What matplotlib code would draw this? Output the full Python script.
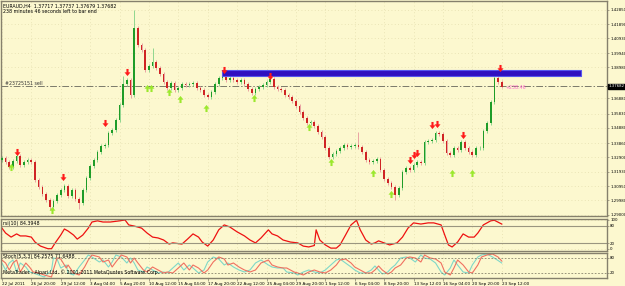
import numpy as np
import matplotlib.pyplot as plt
from matplotlib.path import Path
from matplotlib.patches import Rectangle
import matplotlib.transforms as mtransforms

plt.rcParams['font.family'] = ['DejaVu Sans']

# ----------------------
# Data (EURAUD H4, one candle per two H4 bars)
# ----------------------
candle_bar = list(range(0, 274, 2))
first_open = 1.3270
close_px = [
    1.3285, 1.3258, 1.3224, 1.3265, 1.3299, 1.3238, 1.3258, 1.3272, 1.3258, 1.3136,
    1.3089, 1.3042, 1.3001, 1.2954, 1.2995, 1.3035, 1.3069, 1.3096, 1.3028, 1.3069,
    1.3008, 1.2981, 1.3069, 1.3150, 1.3231, 1.3272, 1.3326, 1.3366, 1.3373, 1.3454,
    1.3474, 1.3542, 1.3643, 1.3785, 1.3812, 1.3711, 1.4163, 1.4049, 1.4015, 1.3880,
    1.3907, 1.3934, 1.3893, 1.3853, 1.3799, 1.3758, 1.3792, 1.3745, 1.3758, 1.3785,
    1.3778, 1.3785, 1.3792, 1.3758, 1.3745, 1.3711, 1.3697, 1.3731, 1.3785, 1.3826,
    1.3866, 1.3812, 1.3826, 1.3812, 1.3799, 1.3812, 1.3785, 1.3751, 1.3724, 1.3751,
    1.3765, 1.3778, 1.3799, 1.3819, 1.3765, 1.3751, 1.3745, 1.3711, 1.3697, 1.3670,
    1.3636, 1.3596, 1.3555, 1.3522, 1.3528, 1.3501, 1.3461, 1.3427, 1.3353, 1.3292,
    1.3312, 1.3332, 1.3353, 1.3373, 1.3359, 1.3366, 1.3373, 1.3359, 1.3326, 1.3272,
    1.3258, 1.3265, 1.3278, 1.3204, 1.3143, 1.3116, 1.3089, 1.3035, 1.3082, 1.3190,
    1.3217, 1.3204, 1.3238, 1.3258, 1.3251, 1.3393, 1.3400, 1.3407, 1.3454, 1.3447,
    1.3400, 1.3319, 1.3305, 1.3353, 1.3339, 1.3393, 1.3353, 1.3326, 1.3305, 1.3353,
    1.3353, 1.3467, 1.3522, 1.3663, 1.3826, 1.3799, 1.3768,
]
wick_tail = 0.0011
# candles with long wicks (index -> price)
spike_high = {36: 1.4285, 41: 1.4028, 97: 1.3461, 33: 1.3840}
spike_low = {13: 1.2935, 21: 1.2940, 107: 1.3000, 35: 1.3690}

# fractal arrows
red_bar = [8, 33, 56, 68, 121, 146, 222, 224, 226, 234, 237, 251, 271]
red_px = [1.3326, 1.3157, 1.3522, 1.3866, 1.3880, 1.3839, 1.3272, 1.3305, 1.3319,
          1.3508, 1.3515, 1.3440, 1.3893]
green_bar = [5, 27, 79, 81, 91, 97, 111, 137, 167, 179, 202, 212, 245, 256]
green_px = [1.3224, 1.2934, 1.3758, 1.3758, 1.3731, 1.3684, 1.3623, 1.3690, 1.3494,
            1.3258, 1.3184, 1.3042, 1.3184, 1.3184]

# resistance zone and open order
zone_bars = (119.6, 315.2)
zone_px = (1.3839, 1.3880)
order_px = 1.3770
order_label = '#23725151 sell'
profit_label = '+238.46'
last_px = 1.37682

price_ticks = [1.42850, 1.41890, 1.40930, 1.39940, 1.38980, 1.36880, 1.35830,
               1.34880, 1.33860, 1.32900, 1.31930, 1.30950, 1.29980, 1.29000]

# RSI(10)
rsi_bar = [0, 2, 5, 8, 10, 13, 16, 18, 21, 25, 27, 29, 32, 34, 36, 39, 41, 44, 47, 49,
           52, 55, 59, 64, 67, 69, 72, 76, 79, 82, 85, 88, 91, 93, 98, 101, 104, 107, 109,
           112, 115, 118, 121, 124, 128, 132, 135, 138, 141, 145, 147, 150, 153, 157, 161,
           164, 167, 170, 171, 173, 176, 179, 182, 184, 187, 190, 193, 195, 198, 201, 203,
           205, 208, 211, 215, 218, 221, 224, 228, 232, 235, 239, 241, 243, 245, 248, 251,
           254, 257, 259, 262, 266, 268, 272]
rsi_val = [72, 55, 41, 52, 45, 45, 41, 24, 10, 1, 1, 21, 48, 69, 62, 48, 34, 48, 72, 93,
           97, 93, 93, 97, 100, 83, 79, 72, 55, 41, 38, 31, 17, 21, 17, 34, 52, 41, 24,
           10, 31, 66, 83, 76, 59, 45, 31, 21, 38, 66, 52, 45, 31, 24, 21,
           10, 7, 12, 66, 31, 14, 3, 3, 14, 48, 83, 99, 66, 31, 17, 21,
           28, 21, 14, 21, 41, 72, 90, 86, 90, 90, 83, 48, 14, 7, 24, 52,
           41, 41, 55, 83, 97, 99, 86]

# Stochastic(5,3,3)
sto_bar = [0, 2, 4, 6, 8, 10, 13, 15, 17, 20, 23, 27, 28, 30, 32, 35, 36, 39, 42, 45,
           47, 49, 53, 55, 58, 60, 62, 65, 68, 70, 72, 74, 77, 79, 82, 85, 88, 90, 93, 96,
           99, 102, 104, 107, 110, 112, 115, 118, 121, 123, 126, 129, 132, 135, 138, 141,
           145, 147, 150, 153, 155, 159, 161, 164, 167, 170, 173, 176, 179, 182, 184, 187,
           190, 192, 195, 198, 201, 203, 205, 207, 210, 212, 214, 217, 220, 222, 225, 228,
           230, 233, 236, 239, 241, 244, 246, 248, 251, 254, 256, 259, 261, 264, 267, 270,
           272]
sto_signal = [72, 60, 32, 60, 72, 24, 60, 44, 24, 20, 12, 4, 32, 80, 76, 40, 52, 20, 12, 44,
              72, 92, 84, 64, 72, 44, 64, 92, 84, 60, 80, 60, 32, 24, 44, 32, 20, 24, 20, 40,
              60, 32, 52, 40, 20, 32, 64, 84, 76, 52, 60, 44, 32, 24, 32, 60,
              72, 52, 44, 40, 40, 24, 20, 12, 24, 32, 24, 20, 32, 52, 72, 76,
              60, 44, 32, 20, 20, 32, 48, 32, 16, 24, 40, 52, 80, 84, 80, 64,
              92, 80, 76, 60, 24, 12, 40, 72, 52, 24, 20, 52, 84, 92, 96, 84,
              68]
sto_main = [60, 32, 60, 72, 24, 60, 44, 24, 20, 12, 4, 32, 80, 76, 40, 52, 20, 12, 44, 72,
            92, 84, 64, 72, 44, 64, 92, 84, 60, 80, 60, 32, 24, 44, 32, 20, 24, 20, 40, 60,
            32, 52, 40, 20, 32, 64, 84, 76, 52, 60, 44, 32, 24, 32, 60, 72,
            52, 44, 40, 40, 24, 20, 12, 24, 32, 24, 20, 32, 52, 72, 76, 60,
            44, 32, 20, 20, 32, 48, 32, 16, 24, 40, 52, 80, 84, 80, 64, 92,
            80, 76, 60, 24, 12, 40, 72, 52, 24, 20, 52, 84, 92, 96, 84, 70,
            60]

date_ticks = list(range(0, 273, 16))
date_labels = ['22 Jul 2011', '26 Jul 20:00', '29 Jul 12:00', '3 Aug 04:00', '5 Aug 20:00',
               '10 Aug 12:00', '15 Aug 04:00', '17 Aug 20:00', '22 Aug 12:00', '25 Aug 04:00',
               '29 Aug 20:00', '1 Sep 12:00', '6 Sep 04:00', '8 Sep 20:00', '13 Sep 12:00',
               '16 Sep 04:00', '20 Sep 20:00', '23 Sep 12:00']

# ----------------------
# Figure layout (MetaTrader style)
# ----------------------
bg = '#fcf8cf'
edge = '#85806c'
fs = 3.4       # panel texts
fs_x = 3.0     # date labels
fs_tick = 2.8  # right axis labels

fig = plt.figure(figsize=(6.25, 2.86), dpi=100, facecolor=bg)
ax = fig.add_axes([0.0016, 0.2448, 0.9696, 0.7517], facecolor=bg)
ax_rsi = fig.add_axes([0.0016, 0.1224, 0.9696, 0.1119], facecolor=bg, sharex=ax)
ax_sto = fig.add_axes([0.0016, 0.028, 0.9696, 0.0874], facecolor=bg, sharex=ax)

for a in (ax, ax_rsi, ax_sto):
    for s in a.spines.values():
        s.set_color(edge)
        s.set_linewidth(1.0)
    a.yaxis.tick_right()
    a.tick_params(axis='y', length=1.5, width=0.5, colors='black', labelsize=fs_tick,
                  pad=0.8, color=edge)
    a.tick_params(axis='x', length=0, labelbottom=False)
    a.grid(color='#e4deae', ls=(0, (1, 3)), lw=0.6)
    a.set_axisbelow(True)

# ----------------------
# Candles
# ----------------------
closes = np.array(close_px)
opens = np.r_[first_open, closes[:-1]]
highs = np.maximum(opens, closes) + wick_tail
lows = np.minimum(opens, closes) - wick_tail
for i, v in spike_high.items():
    highs[i] = v
for i, v in spike_low.items():
    lows[i] = v
x = np.array(candle_bar)
up = closes >= opens

ax.vlines(x[up], lows[up], highs[up], color='#8fd68f', lw=0.7, zorder=2)
ax.vlines(x[~up], lows[~up], highs[~up], color='#eaa3a3', lw=0.7, zorder=2)
ax.bar(x[up], closes[up] - opens[up], bottom=opens[up], width=0.9, color='#1e9c28', lw=0, zorder=3)
ax.bar(x[~up], opens[~up] - closes[~up], bottom=closes[~up], width=0.9, color='#cf2424', lw=0, zorder=3)

# arrows
down_arrow = Path([(-0.3, 1), (0.3, 1), (0.3, 0.05), (0.85, 0.05), (0, -1),
                   (-0.85, 0.05), (-0.3, 0.05), (-0.3, 1)], closed=True)
up_arrow = Path([(-0.3, -1), (0.3, -1), (0.3, -0.05), (0.85, -0.05), (0, 1),
                 (-0.85, -0.05), (-0.3, -0.05), (-0.3, -1)], closed=True)
ax.scatter(red_bar, red_px, marker=down_arrow, s=26, color='#ff1a1a', lw=0, zorder=5)
ax.scatter(green_bar, green_px, marker=up_arrow, s=26, color='#9be82d', lw=0, zorder=5)

# resistance zone
ax.add_patch(Rectangle((zone_bars[0], zone_px[0]), zone_bars[1] - zone_bars[0],
                       zone_px[1] - zone_px[0], fc='#3010c0', ec='#5656ee', lw=0.8, zorder=4))

# order line
ax.axhline(order_px, color='#7a7a6a', lw=0.7, ls=(0, (7, 2, 1.5, 2)), zorder=1)
ax.text(1.5, order_px + 0.0004, order_label, fontsize=fs, va='bottom', ha='left', color='#333333')
ax.text(274, order_px - 0.0008, profit_label, fontsize=fs, va='center', ha='left', color='#ff66cc')

ax.set_xlim(-0.5, 329.3)
ax.set_ylim(1.28931, 1.43458)
ax.set_yticks(price_ticks)
ax.set_yticklabels([f'{t:.5f}' for t in price_ticks])

trans = mtransforms.blended_transform_factory(ax.transAxes, ax.transData)
ax.text(1.003, last_px, f'{last_px:.5f}', transform=trans, fontsize=fs_tick, color='white',
        va='center', ha='left', bbox=dict(boxstyle='square,pad=0.2', fc='black', ec='black'),
        zorder=6, clip_on=False)

ax.text(0.004, 0.988, 'EURAUD,H4  1.37717 1.37737 1.37679 1.37682', transform=ax.transAxes,
        fontsize=fs, va='top', ha='left')
ax.text(0.004, 0.962, '238 minutes 46 seconds left to bar end', transform=ax.transAxes,
        fontsize=fs, va='top', ha='left')

# ----------------------
# RSI panel
# ----------------------
ax_rsi.plot(rsi_bar, rsi_val, color='#ee1111', lw=0.9)
for lv in (80, 20):
    ax_rsi.axhline(lv, color='#9a9680', lw=0.8)
ax_rsi.set_ylim(-6.9, 103.4)
ax_rsi.set_yticks([100, 80, 20, 0])
ax_rsi.set_yticklabels(['100', '80', '20', '0'])
ax_rsi.text(0.004, 0.93, 'rsi(10) 84.3948', transform=ax_rsi.transAxes, fontsize=fs, va='top')

# ----------------------
# Stochastic panel
# ----------------------
ax_sto.plot(sto_bar, sto_main, color='#7fd8c8', lw=0.8)
ax_sto.plot(sto_bar, sto_signal, color='#f07060', lw=0.8)
for lv in (80, 20):
    ax_sto.axhline(lv, color='#8a8670', lw=0.6, ls=(0, (2, 2)))
ax_sto.set_ylim(0, 100)
ax_sto.set_yticks([80, 20])
ax_sto.set_yticklabels(['80', '20'])
ax_sto.text(0.004, 0.97, 'Stoch(5,3,3) 84.2575 71.6488', transform=ax_sto.transAxes,
            fontsize=fs, va='top')
ax_sto.text(0.004, 0.1, 'MetaTrader - Alpari Ltd, \u00a9 2001-2011 MetaQuotes Software Corp.',
            transform=ax_sto.transAxes, fontsize=fs, va='bottom')

ax_sto.set_xticks(date_ticks)
ax_sto.set_xticklabels(date_labels)
ax_sto.tick_params(axis='x', length=2, width=0.5, color=edge, labelbottom=True,
                   labelsize=fs_x, pad=0.8)
for lab in ax_sto.get_xticklabels():
    lab.set_horizontalalignment('left')

fig.savefig('out.png', dpi=100, facecolor=bg)
